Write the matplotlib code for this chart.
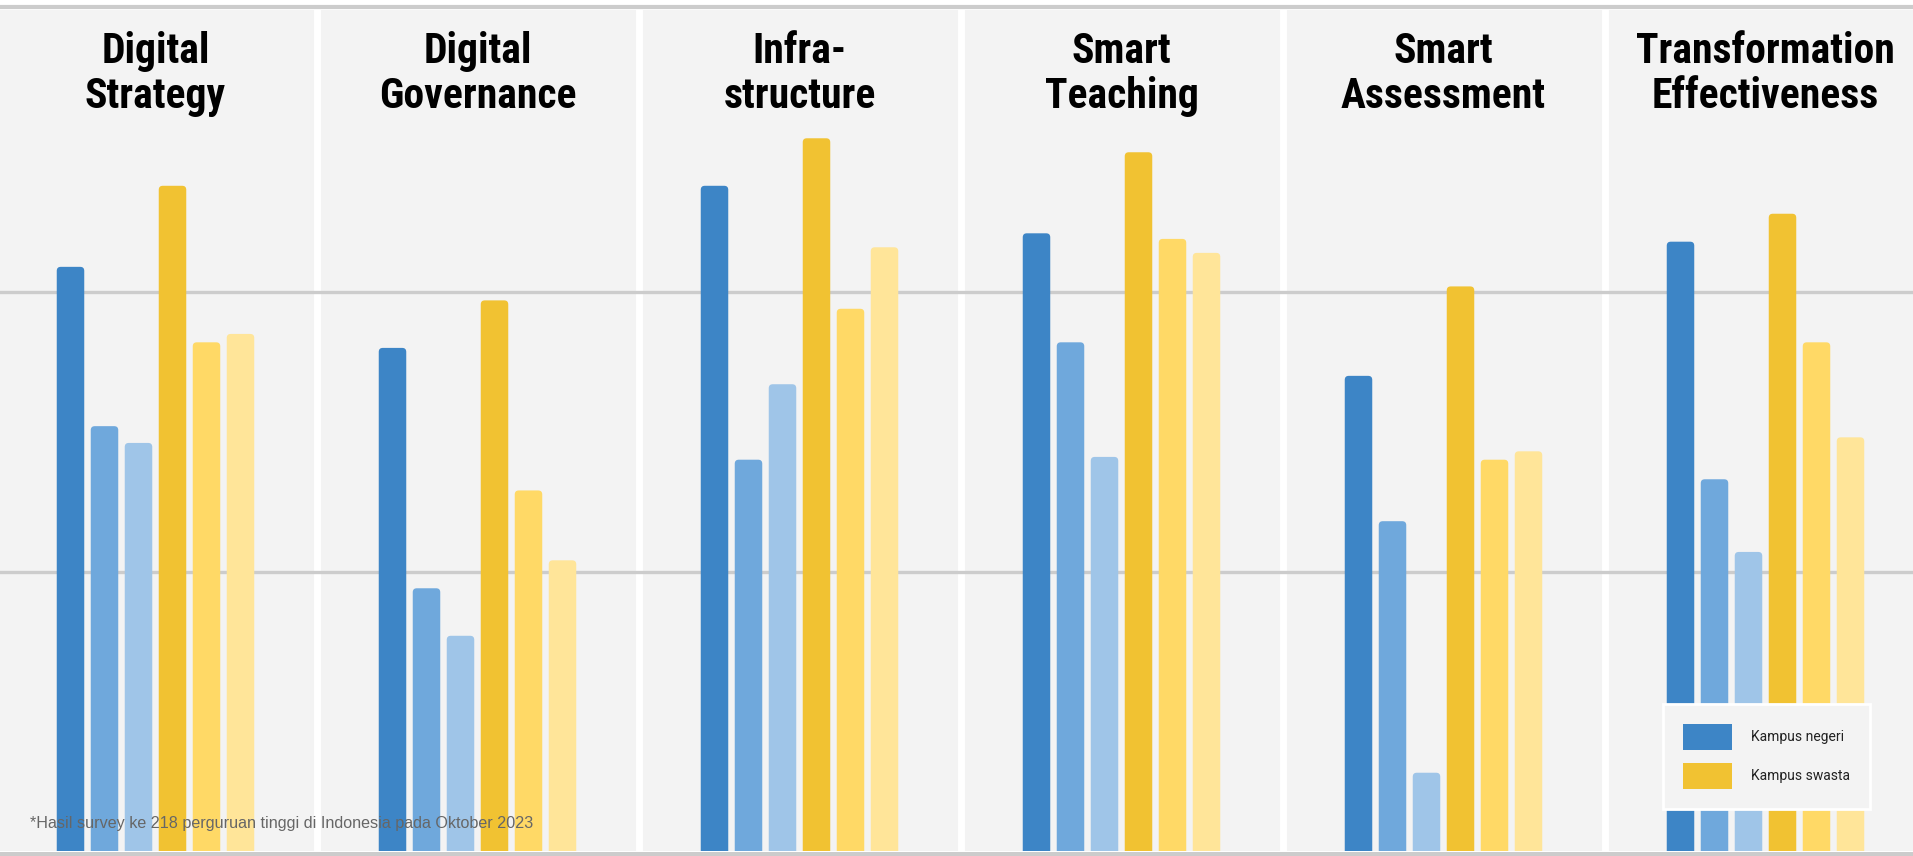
import matplotlib
matplotlib.use('Agg')
import matplotlib.pyplot as plt
from matplotlib import font_manager as fm
from matplotlib.patches import Patch, FancyBboxPatch
from matplotlib.lines import Line2D
import numpy as np

# data survey transformasi digital kampus
kategori = ['Digital\nStrategy', 'Digital\nGovernance', 'Infra-\nstructure',
            'Smart\nTeaching', 'Smart\nAssessment', 'Transformation\nEffectiveness']

negeri_1 = [2.09, 1.80, 2.38, 2.21, 1.70, 2.18]
negeri_2 = [1.52, 0.94, 1.40, 1.82, 1.18, 1.33]
negeri_3 = [1.46, 0.77, 1.67, 1.41, 0.28, 1.07]
swasta_1 = [2.38, 1.97, 2.55, 2.50, 2.02, 2.28]
swasta_2 = [1.82, 1.29, 1.94, 2.19, 1.40, 1.82]
swasta_3 = [1.85, 1.04, 2.16, 2.14, 1.43, 1.48]

label_legend = ['Kampus negeri', 'Kampus swasta']
catatan = '*Hasil survey ke 218 perguruan tinggi di Indonesia pada Oktober 2023'

semua_seri = [negeri_1, negeri_2, negeri_3, swasta_1, swasta_2, swasta_3]
warna = ['#3d85c6', '#6fa8dc', '#9fc5e8', '#f1c232', '#ffd966', '#ffe599']


def cari_font(kandidat):
    for nama in kandidat:
        try:
            fm.findfont(fm.FontProperties(family=nama), fallback_to_default=False)
            return nama
        except ValueError:
            continue
    return 'DejaVu Sans'


font_judul = cari_font(['Roboto Condensed', 'Liberation Sans Narrow', 'Roboto'])
ukuran_judul = {'Roboto Condensed': 30, 'Liberation Sans Narrow': 28}.get(font_judul, 25)
font_teks = cari_font(['Roboto', 'DejaVu Sans'])

W, H = 1913, 856
fig = plt.figure(figsize=(W / 100, H / 100), dpi=100, facecolor='white')

# satu panel = 322 px, dasar batang di y=851 px, satu garis grid = 279.5 px
panel = 322.0
grid_px = 279.5
ax = fig.add_axes([0, 5 / H, 1, 841 / H])
ax.set_xlim(-155.5 / panel, (W - 155.5) / panel)
ax.set_ylim(0, 841 / grid_px)
ax.set_facecolor('#f3f3f3')
for s in ax.spines.values():
    s.set_visible(False)
ax.set_xticks([])
ax.set_yticks([])

# pemisah putih antar kategori
for k in range(len(kategori) - 1):
    ax.axvline(k + 0.5, color='white', lw=5, zorder=1)

for g in [1, 2]:
    ax.axhline(g, color='#cccccc', lw=2.4, zorder=1.5)

# batang dengan ujung atas sedikit membulat (sudut bawah terpotong sumbu)
x = np.arange(len(kategori))
lebar = 27.5 / panel
jarak = 34 / panel
r = 4 / panel
aspek = panel / grid_px
for i, (seri, c) in enumerate(zip(semua_seri, warna)):
    for xi, v in zip(x + (i - 2.5) * jarak, seri):
        p = FancyBboxPatch((xi - lebar / 2, -0.05), lebar, v + 0.05,
                           boxstyle=f'round,pad=0,rounding_size={r}',
                           mutation_aspect=aspek, facecolor=c, edgecolor='none',
                           zorder=2)
        ax.add_patch(p)

# judul kategori, dua baris
tr = ax.get_xaxis_transform()
for i, judul in enumerate(kategori):
    baris = judul.split('\n')
    for j, teks in enumerate(baris):
        y_px = 63 + j * 45
        ax.text(i, (851 - y_px) / 841, teks, transform=tr, ha='center', va='baseline',
                fontsize=ukuran_judul, fontweight='bold', family=font_judul, color='black',
                zorder=5)

# garis atas dan bawah
fig.add_artist(Line2D([0, 1], [1 - 7 / H] * 2, transform=fig.transFigure,
                      color='#cccccc', lw=3))
fig.add_artist(Line2D([0, 1], [2.5 / H] * 2, transform=fig.transFigure,
                      color='#cccccc', lw=3.6))

handles = [Patch(facecolor=warna[0], edgecolor='none'),
           Patch(facecolor=warna[3], edgecolor='none')]
leg = fig.legend(handles, label_legend, loc='upper left',
                 bbox_to_anchor=(1663 / W, 1 - 704 / H), bbox_transform=fig.transFigure,
                 frameon=True, fancybox=False, facecolor='#f3f3f3', edgecolor='white',
                 framealpha=1, prop={'family': font_teks, 'size': 10},
                 handlelength=3.5, handleheight=2.5, labelspacing=0.9,
                 handletextpad=1.4, borderpad=1.45, borderaxespad=0)
leg.get_frame().set_linewidth(2)
for t in leg.get_texts():
    t.set_color('#222222')

fig.text(30 / W, 1 - 828 / H, catatan, ha='left', va='baseline', fontsize=11.6,
         family='Liberation Sans', color='#666666', zorder=10)

fig.savefig('out.png', dpi=100, facecolor='white')
